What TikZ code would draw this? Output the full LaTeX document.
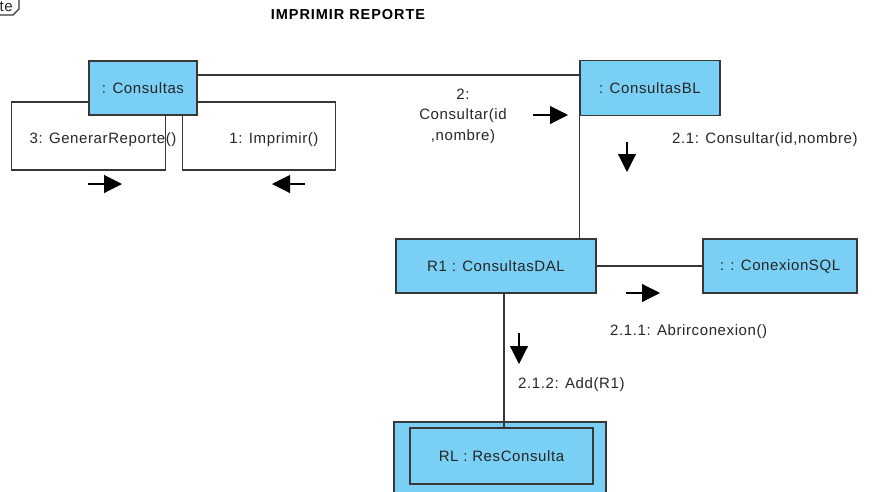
\documentclass[tikz,border=0pt]{standalone}
\usepackage{fontspec}
\setmainfont{Liberation Sans}[LetterSpace=4]
\usetikzlibrary{arrows.meta}
\definecolor{objblue}{RGB}{122,207,245}
\definecolor{edgegray}{RGB}{55,55,55}

\begin{document}
\begin{tikzpicture}[x=1pt,y=-1pt,
	obj/.style={ draw=edgegray, fill=objblue, line width=1.2pt, inner sep=0pt, text=black!85, font=\fontsize{15}{18}\selectfont },
	link/.style={ draw=edgegray, line width=1.1pt },
	msg/.style={ line width=1.1pt, -{Triangle[length=18pt,width=18pt]} },
	lbl/.style={ inner sep=0pt, text=black!85, font=\fontsize{15}{20.5}\selectfont }
]
\useasboundingbox (0,0) rectangle (875,491);

% frame tag and title
\node at (13,7) (tag) [lbl, anchor=east] {te};
\draw[link] (0,15) -- (13,15) -- (19,9) -- (19,0);
\node at (348,15) (title) [inner sep=0pt, font=\bfseries\fontsize{14.5}{16}\selectfont\addfontfeatures{LetterSpace=6.5}] {IMPRIMIR REPORTE};

% objects
\node at (143,88) (cons) [obj, minimum width=108pt, minimum height=54pt] {: Consultas};
\node at (650,88) (consbl) [obj, minimum width=140pt, minimum height=55pt] {: ConsultasBL};
\node at (496,266) (dal) [obj, minimum width=200pt, minimum height=54pt] {R1 : ConsultasDAL};
\node at (780,266) (sql) [obj, minimum width=154pt, minimum height=54pt] {: : ConexionSQL};
\node at (500,460) (rlout) [obj, minimum width=212pt, minimum height=76pt] {};
\node at (501.5,456) (rl) [obj, minimum width=183pt, minimum height=56pt] {RL : ResConsulta};

% links
\draw[link] ([yshift=13pt]cons.east) -- ([yshift=13pt]consbl.west);
\draw[link] (consbl.south west) -- (consbl.south west |- dal.north);
\draw[link] (dal.east) -- (sql.west);
\draw[link] ([xshift=8pt]dal.south) -- ([xshift=8pt]dal.south |- rl.north);

% self links
\draw[link] ([yshift=-14pt]cons.west) -- ++(-77,0) -- ++(0,68) -- ++(154,0) -- ++(0,-55);
\draw[link] ([yshift=-14pt]cons.east) -- ++(138,0) -- ++(0,68) -- ++(-153,0) -- ++(0,-55);

% messages
\node at (103,140) (m3) [lbl] {3: GenerarReporte()};
\node at (274,140) (m1) [lbl] {1: Imprimir()};
\node at (463,116) (m2) [lbl, align=center] {2:\\Consultar(id\\,nombre)};
\node at (672,140) (m21) [lbl, anchor=west] {2.1: Consultar(id,nombre)};
\node at (610,332) (m211) [lbl, anchor=west] {2.1.1: Abrirconexion()};
\node at (518,385) (m212) [lbl, anchor=west] {2.1.2: Add(R1)};

\coordinate (a3s) at (88,184);   \coordinate (a3e) at (122,184);
\coordinate (a1s) at (305,184);  \coordinate (a1e) at (272,184);
\coordinate (a2s) at (533,115);  \coordinate (a2e) at (568,115);
\coordinate (a21s) at (627,142); \coordinate (a21e) at (627,172);
\coordinate (a211s) at (626,293); \coordinate (a211e) at (660,293);
\coordinate (a212s) at (519,333); \coordinate (a212e) at (519,364);
\foreach \p in {a3,a1,a2,a21,a211,a212}
  \draw[msg] (\p s) -- (\p e);

\end{tikzpicture}
\end{document}
